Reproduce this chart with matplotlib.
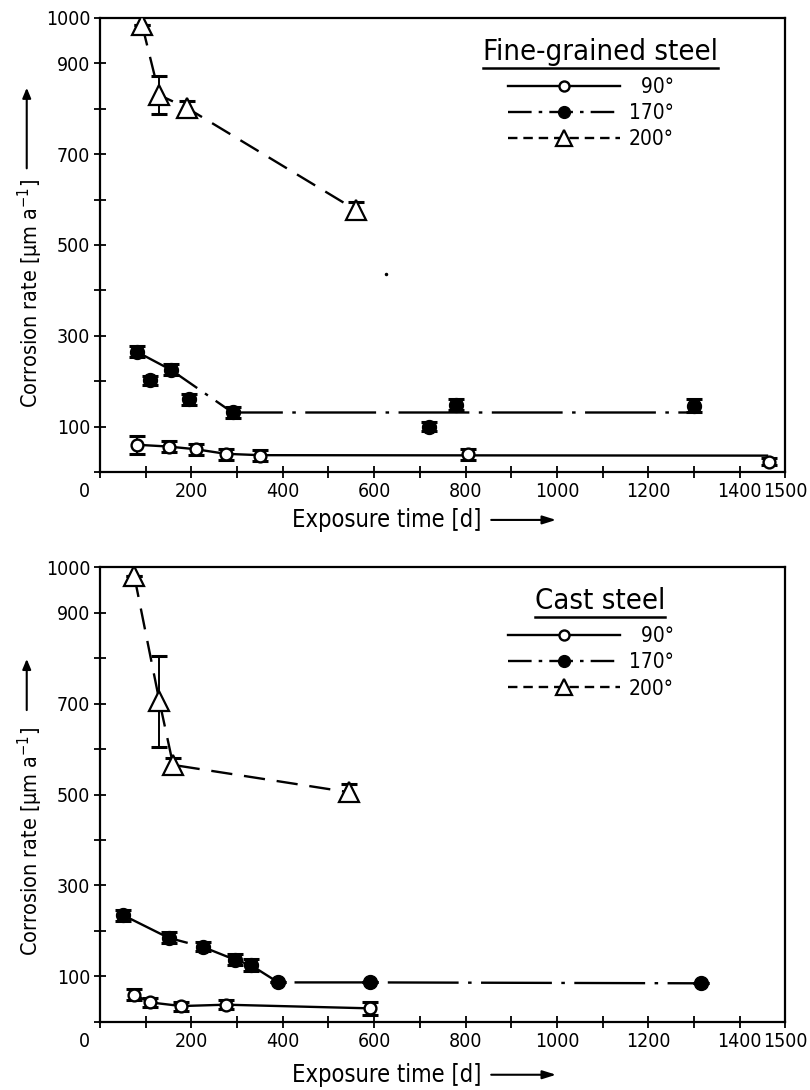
"""
Corrosion rate vs exposure time for fine-grained and cast steel.
Saves out.png.
"""

import matplotlib

matplotlib.use("Agg")
import matplotlib.pyplot as plt
from matplotlib.lines import Line2D
from matplotlib.patches import FancyArrowPatch


plt.rcParams["font.family"] = ["DejaVu Sans"]
plt.rcParams["font.stretch"] = "condensed"

# ---- fine-grained steel -------------------------------------------------
fine_90_x = [80, 150, 210, 275, 350, 805, 1465]
fine_90_y = [60, 56, 50, 39, 36, 39, 23]
fine_90_err = [20, 12, 12, 12, 12, 12, 8]
fine_90_fit_x = [80, 150, 210, 275, 350, 1460]
fine_90_fit_y = [60, 56, 50, 40, 37, 36]

fine_170_x = [80, 110, 155, 195, 290, 720, 780, 1300]
fine_170_y = [265, 202, 225, 160, 131, 100, 148, 146]
fine_170_err = [12, 10, 12, 12, 12, 10, 12, 14]
fine_170_fit_x = [80, 155, 290, 1300]
fine_170_fit_y = [265, 225, 131, 131]

fine_200_x = [92, 130, 190, 560]
fine_200_y = [985, 830, 802, 577]
fine_200_err = [0, 42, 15, 18]

# ---- cast steel -----------------------------------------------------------
cast_90_x = [75, 110, 178, 275, 590]
cast_90_y = [60, 43, 35, 38, 30]
cast_90_err = [12, 10, 10, 10, 14]

cast_170_x = [50, 150, 225, 295, 330, 390, 590, 1315]
cast_170_y = [235, 185, 165, 137, 125, 87, 87, 85]
cast_170_err = [12, 12, 10, 12, 14, 0, 0, 0]

cast_200_x = [75, 130, 160, 545]
cast_200_y = [980, 705, 565, 505]
cast_200_err = [0, 100, 15, 17]

Y_TICKS = list(range(0, 1001, 100))
Y_LABELS = ["", "100", "", "300", "", "500", "", "700", "", "900", "1000"]
X_TICKS = list(range(0, 1501, 100))
X_LABELS = ["", "", "200", "", "400", "", "600", "", "800", "", "1000", "",
            "1200", "", "1400", "1500"]

LW = 1.7
DASH_200 = (0, (9, 5))
DASHDOT_170 = (0, (30, 4, 1.5, 4))

STYLE_90 = dict(marker="o", ms=8.5, mfc="white", mec="black", mew=1.7)
STYLE_170 = dict(marker="o", ms=10, mfc="black", mec="black", mew=1.0)
STYLE_200 = dict(marker="^", ms=14, mfc="white", mec="black", mew=1.6)


def errpoints(ax, x, y, err, style):
    ax.errorbar(x, y, yerr=err, fmt="none", ecolor="black",
                elinewidth=1.4, capsize=6, capthick=2.2, zorder=3)
    ax.plot(x, y, linestyle="none", zorder=4, **style)


def style_axes(ax):
    ax.set_xlim(0, 1500)
    ax.set_ylim(0, 1000)
    ax.set_xticks(X_TICKS)
    ax.set_xticklabels(X_LABELS)
    ax.set_yticks(Y_TICKS)
    ax.set_yticklabels(Y_LABELS)
    ax.tick_params(direction="inout", length=8, width=1.3,
                   labelsize=14, pad=3)
    for s in ax.spines.values():
        s.set_linewidth(1.6)
    ax.annotate("0", xy=(0, 0), xycoords="axes fraction", xytext=(-11, -14),
                textcoords="offset points", ha="center", va="center",
                fontsize=14)


def legend_block(ax, title, ytop):
    handles = [
        Line2D([], [], color="black", lw=LW, linestyle="-", **STYLE_90),
        Line2D([], [], color="black", lw=LW, linestyle=(0, (10, 3, 1.5, 3)),
               **STYLE_170),
        Line2D([], [], color="black", lw=LW, linestyle=(0, (4, 2.5)),
               **STYLE_200),
    ]
    t = ax.text(1095, ytop, title, ha="center", va="center", fontsize=21)
    ax.legend(handles, ["  90°", "170°", "200°"], loc="upper left",
              bbox_to_anchor=(870, ytop - 32),
              bbox_transform=ax.transData, frameon=False,
              handlelength=5.4, fontsize=15, labelspacing=0.3,
              handletextpad=0.4, borderpad=0, markerscale=0.85)
    return t


def underline(fig, t):
    fig.canvas.draw()
    bb = t.get_window_extent()
    inv = fig.transFigure.inverted()
    (x0, y0), (x1, _) = inv.transform([(bb.x0, bb.y0 - 2), (bb.x1, bb.y0 - 2)])
    fig.add_artist(Line2D([x0, x1], [y0, y0], color="black", lw=1.8,
                          transform=fig.transFigure))


def axis_labels(fig, ylab_center, arrow_y0, arrow_y1, xlab_y):
    fig.text(0.038, ylab_center, "Corrosion rate [µm a$^{-1}$]",
             rotation=90, ha="center", va="center", fontsize=15.5)
    fig.add_artist(FancyArrowPatch(
        (0.033, arrow_y0), (0.033, arrow_y1), transform=fig.transFigure,
        arrowstyle="-|>,head_length=6,head_width=2.5", lw=1.5,
        color="black"))
    fig.text(0.477, xlab_y, "Exposure time [d]", ha="center", va="center",
             fontsize=17)
    fig.add_artist(FancyArrowPatch(
        (0.603, xlab_y), (0.69, xlab_y), transform=fig.transFigure,
        arrowstyle="-|>,head_length=8,head_width=2.5", lw=1.5,
        color="black"))


fig = plt.figure(figsize=(8.1, 10.9), dpi=100)
ax1 = fig.add_axes([0.1235, 0.567, 0.846, 0.4165])
ax2 = fig.add_axes([0.1235, 0.0624, 0.846, 0.4174])

# fine-grained steel
ax1.plot(fine_90_fit_x, fine_90_fit_y, color="black", lw=LW, zorder=2)
ax1.plot(fine_170_fit_x, fine_170_fit_y, color="black", lw=LW,
         linestyle=DASHDOT_170, zorder=2)
ax1.plot(fine_200_x, fine_200_y, color="black", lw=LW,
         linestyle=DASH_200, zorder=2)
errpoints(ax1, fine_90_x, fine_90_y, fine_90_err, STYLE_90)
errpoints(ax1, fine_170_x, fine_170_y, fine_170_err, STYLE_170)
errpoints(ax1, fine_200_x, fine_200_y, fine_200_err, STYLE_200)
ax1.plot([625], [435], "k.", ms=3)
style_axes(ax1)
t1 = legend_block(ax1, "Fine-grained steel", 925)

# cast steel
ax2.plot(cast_90_x, cast_90_y, color="black", lw=LW, zorder=2)
ax2.plot(cast_170_x, cast_170_y, color="black", lw=LW,
         linestyle=DASHDOT_170, zorder=2)
ax2.plot(cast_200_x, cast_200_y, color="black", lw=LW,
         linestyle=DASH_200, zorder=2)
errpoints(ax2, cast_90_x, cast_90_y, cast_90_err, STYLE_90)
errpoints(ax2, cast_170_x, cast_170_y, cast_170_err, STYLE_170)
errpoints(ax2, cast_200_x, cast_200_y, cast_200_err, STYLE_200)
style_axes(ax2)
t2 = legend_block(ax2, "Cast steel", 925)

axis_labels(fig, 0.731, 0.843, 0.922, 0.523)
axis_labels(fig, 0.2275, 0.346, 0.398, 0.014)

underline(fig, t1)
underline(fig, t2)

fig.savefig("out.png", dpi=100)
plt.close(fig)
